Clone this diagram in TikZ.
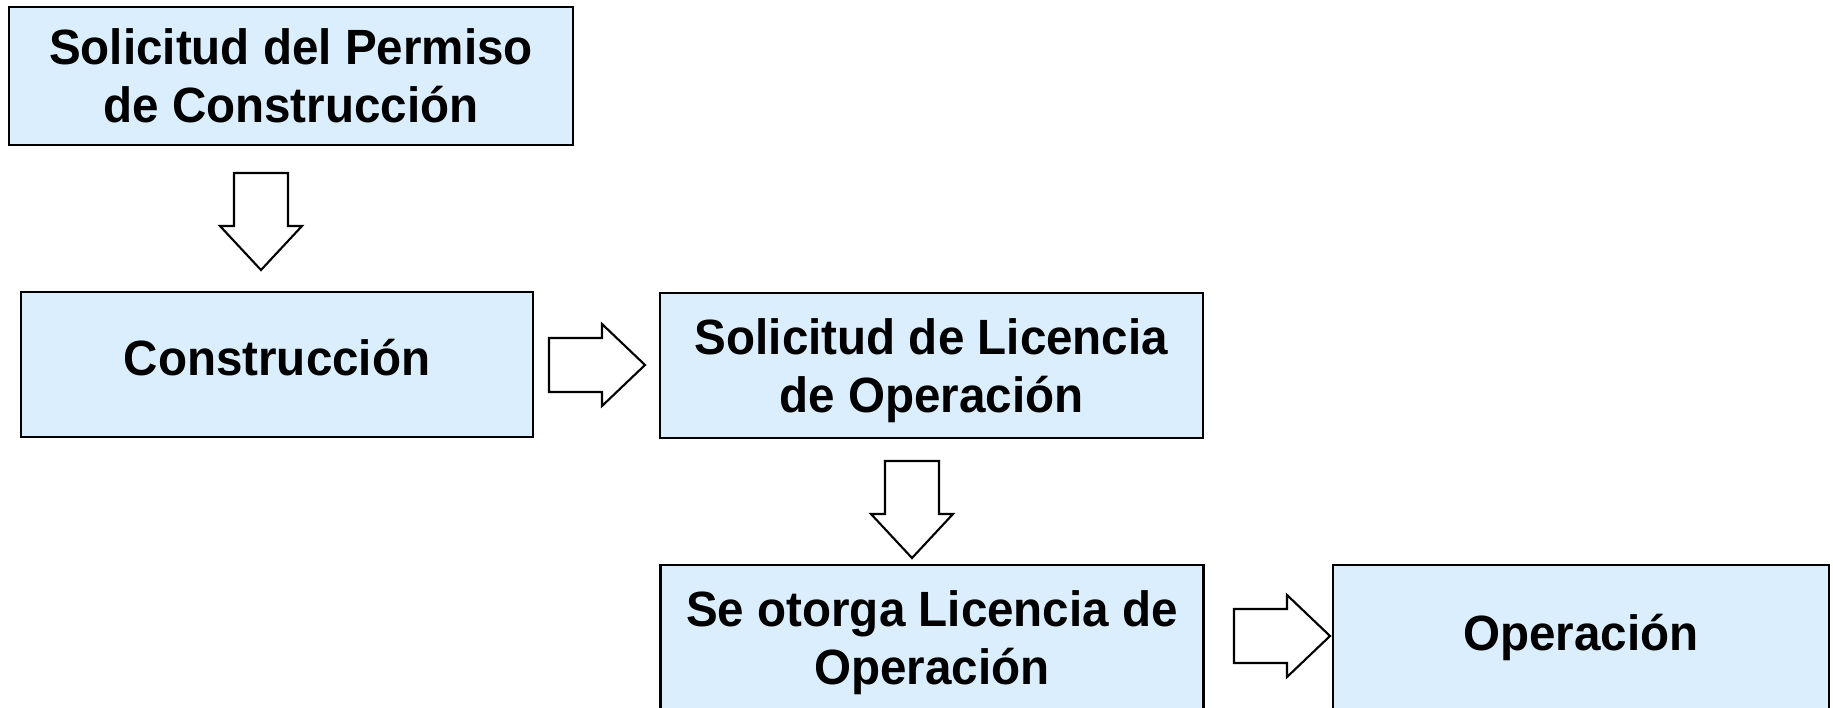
\documentclass[tikz,border=0pt]{standalone}
\usepackage{fontspec}
\setmainfont[FakeStretch=0.96]{Liberation Sans}
\usetikzlibrary{calc}
\definecolor{boxblue}{RGB}{219,238,253}

\tikzset{
	paso/.style={draw=black, line width=0.8pt, fill=boxblue, align=center, inner sep=0pt,
		font=\fontsize{14.1}{16.4}\selectfont\bfseries},
	flechaab/.pic={\filldraw[fill=white, line width=0.6pt] (-0.27,0) -- (0.27,0) -- (0.27,-0.53) -- (0.41,-0.53) -- (0,-0.97) -- (-0.41,-0.53) -- (-0.27,-0.53) -- cycle;},
	flechader/.pic={\filldraw[fill=white, line width=0.6pt] (0,0.27) -- (0.53,0.27) -- (0.53,0.41) -- (0.96,0) -- (0.53,-0.41) -- (0.53,-0.27) -- (0,-0.27) -- cycle;}
}

\begin{document}
\begin{tikzpicture}
		\useasboundingbox (0,0) rectangle (18.33,-7.07);
		\clip (0,0) rectangle (18.33,-7.07);
		% pasos
		\node[paso, minimum width=5.64cm, minimum height=1.38cm] (permiso) at (2.91,-0.76) {Solicitud del Permiso\\de Construcción};
		\node[paso, minimum width=5.12cm, minimum height=1.45cm, text depth=4pt] (construccion) at (2.77,-3.645) {Construcción};
		\node[paso, minimum width=5.43cm, minimum height=1.45cm, text depth=0pt] (licencia) at (9.315,-3.655) {Solicitud de Licencia\\de Operación};
		\node[paso, minimum width=5.43cm, minimum height=1.45cm, text depth=0pt] (otorga) at (9.32,-6.375) {Se otorga Licencia de\\Operación};
		\node[paso, minimum width=4.96cm, minimum height=1.45cm] (operacion) at (15.81,-6.375) {Operación};
		% flechas
		\coordinate (f1) at (2.61,-1.73);
		\coordinate (f2) at (5.49,-3.65);
		\coordinate (f3) at (9.12,-4.61);
		\coordinate (f4) at (12.34,-6.36);
		\pic at (f1) {flechaab};
		\pic at (f2) {flechader};
		\pic at (f3) {flechaab};
		\pic at (f4) {flechader};
\end{tikzpicture}
\end{document}
